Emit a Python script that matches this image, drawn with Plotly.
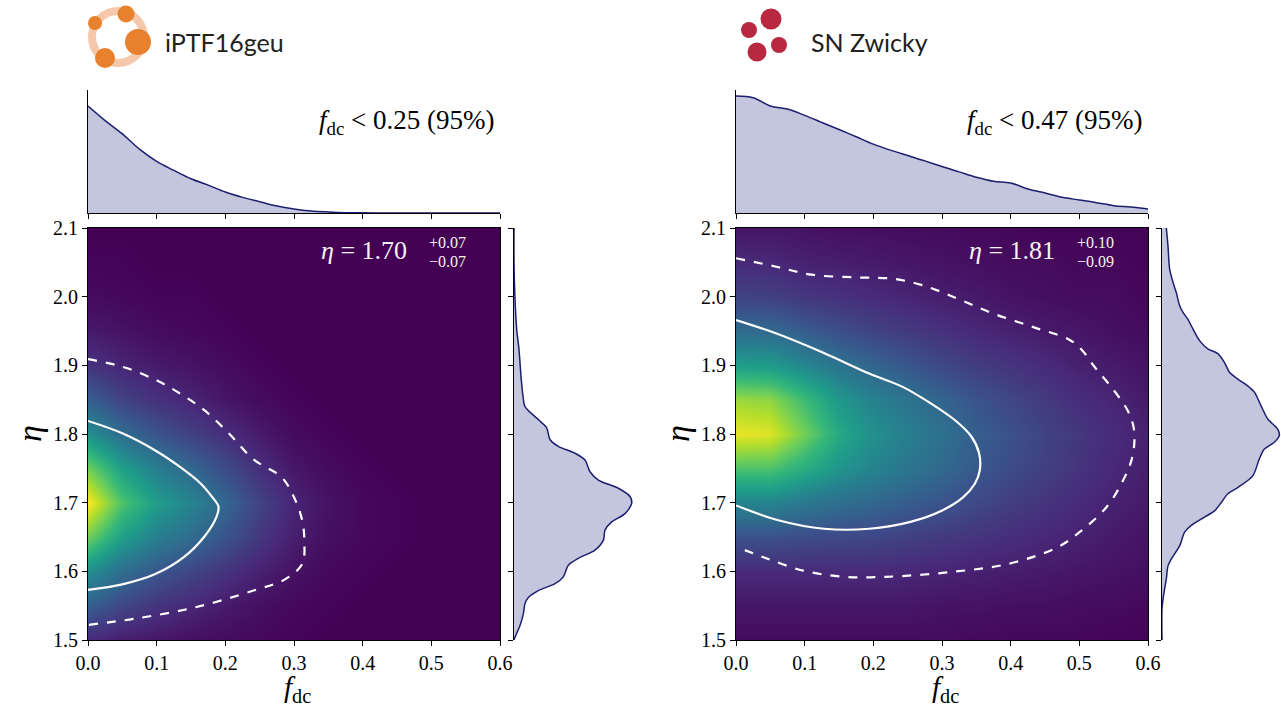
import plotly.graph_objects as go

W, H = 1281, 708

# ---------------- data ----------------
F_GRID = [0.0, 0.05, 0.1, 0.15, 0.2, 0.25, 0.3, 0.35, 0.4, 0.45, 0.5, 0.55, 0.6]
ETA_GRID = [1.5, 1.55, 1.6, 1.65, 1.7, 1.75, 1.8, 1.85, 1.9, 1.95, 2.0, 2.05, 2.1]

Z_IPTF = [
    [0.12, 0.08, 0.06, 0.04, 0.03, 0.02, 0.01, 0.00, 0.00, 0.00, 0.00, 0.00, 0.00],
    [0.30, 0.21, 0.15, 0.11, 0.07, 0.04, 0.02, 0.01, 0.00, 0.00, 0.00, 0.00, 0.00],
    [0.50, 0.36, 0.27, 0.21, 0.15, 0.09, 0.05, 0.02, 0.01, 0.00, 0.00, 0.00, 0.00],
    [0.78, 0.56, 0.43, 0.35, 0.26, 0.16, 0.08, 0.04, 0.02, 0.01, 0.00, 0.00, 0.00],
    [1.00, 0.72, 0.55, 0.45, 0.33, 0.20, 0.10, 0.05, 0.02, 0.01, 0.00, 0.00, 0.00],
    [0.78, 0.56, 0.42, 0.33, 0.23, 0.13, 0.06, 0.03, 0.01, 0.00, 0.00, 0.00, 0.00],
    [0.50, 0.35, 0.26, 0.19, 0.13, 0.07, 0.03, 0.01, 0.00, 0.00, 0.00, 0.00, 0.00],
    [0.30, 0.20, 0.14, 0.10, 0.06, 0.03, 0.01, 0.00, 0.00, 0.00, 0.00, 0.00, 0.00],
    [0.15, 0.10, 0.07, 0.05, 0.03, 0.01, 0.00, 0.00, 0.00, 0.00, 0.00, 0.00, 0.00],
    [0.07, 0.05, 0.03, 0.02, 0.01, 0.00, 0.00, 0.00, 0.00, 0.00, 0.00, 0.00, 0.00],
    [0.03, 0.02, 0.01, 0.01, 0.00, 0.00, 0.00, 0.00, 0.00, 0.00, 0.00, 0.00, 0.00],
    [0.01, 0.01, 0.00, 0.00, 0.00, 0.00, 0.00, 0.00, 0.00, 0.00, 0.00, 0.00, 0.00],
    [0.00, 0.00, 0.00, 0.00, 0.00, 0.00, 0.00, 0.00, 0.00, 0.00, 0.00, 0.00, 0.00],
]

Z_ZWICKY = [
    [0.03, 0.03, 0.03, 0.03, 0.03, 0.03, 0.03, 0.02, 0.02, 0.02, 0.02, 0.01, 0.01],
    [0.06, 0.06, 0.06, 0.06, 0.06, 0.06, 0.05, 0.05, 0.04, 0.04, 0.03, 0.03, 0.02],
    [0.12, 0.12, 0.12, 0.12, 0.12, 0.11, 0.10, 0.09, 0.08, 0.07, 0.06, 0.05, 0.04],
    [0.25, 0.25, 0.23, 0.22, 0.21, 0.19, 0.17, 0.15, 0.13, 0.11, 0.09, 0.07, 0.05],
    [0.45, 0.45, 0.40, 0.36, 0.33, 0.29, 0.26, 0.22, 0.18, 0.15, 0.12, 0.09, 0.07],
    [0.72, 0.72, 0.62, 0.52, 0.45, 0.39, 0.34, 0.28, 0.23, 0.19, 0.15, 0.11, 0.08],
    [0.97, 0.95, 0.78, 0.60, 0.50, 0.43, 0.37, 0.30, 0.25, 0.20, 0.16, 0.12, 0.09],
    [0.85, 0.83, 0.68, 0.53, 0.44, 0.38, 0.32, 0.26, 0.21, 0.17, 0.13, 0.10, 0.07],
    [0.55, 0.54, 0.46, 0.38, 0.32, 0.27, 0.22, 0.18, 0.15, 0.12, 0.09, 0.07, 0.05],
    [0.35, 0.34, 0.29, 0.24, 0.20, 0.17, 0.14, 0.11, 0.09, 0.07, 0.06, 0.04, 0.03],
    [0.20, 0.19, 0.16, 0.14, 0.12, 0.10, 0.08, 0.07, 0.05, 0.04, 0.03, 0.03, 0.02],
    [0.12, 0.11, 0.09, 0.08, 0.07, 0.06, 0.05, 0.04, 0.03, 0.03, 0.02, 0.02, 0.01],
    [0.06, 0.06, 0.05, 0.04, 0.04, 0.03, 0.03, 0.02, 0.02, 0.01, 0.01, 0.01, 0.01],
]

# contours (68% solid, 95% dashed)
IPTF_68_F = [0.0, 0.050, 0.098, 0.134, 0.164, 0.181, 0.190, 0.187, 0.169, 0.140, 0.098, 0.050, 0.0]
IPTF_68_ETA = [1.819, 1.801, 1.776, 1.752, 1.728, 1.708, 1.694, 1.679, 1.650, 1.621, 1.596, 1.581, 1.573]
IPTF_95_F = [0.0, 0.050, 0.098, 0.134, 0.169, 0.205, 0.241, 0.282, 0.300, 0.312, 0.315, 0.312,
             0.288, 0.241, 0.158, 0.068, 0.0]
IPTF_95_ETA = [1.909, 1.898, 1.879, 1.859, 1.835, 1.801, 1.763, 1.737, 1.708, 1.674, 1.645, 1.611,
               1.589, 1.572, 1.548, 1.531, 1.522]

ZW_68_F = [0.0, 0.057, 0.128, 0.194, 0.242, 0.283, 0.319, 0.343, 0.354, 0.355, 0.348, 0.331,
           0.301, 0.254, 0.194, 0.128, 0.063, 0.0]
ZW_68_ETA = [1.966, 1.947, 1.918, 1.888, 1.869, 1.845, 1.820, 1.796, 1.772, 1.747, 1.728, 1.708,
             1.689, 1.672, 1.662, 1.662, 1.674, 1.696]
ZW_95_F = [0.0, 0.057, 0.110, 0.176, 0.230, 0.277, 0.325, 0.373, 0.432, 0.486, 0.504, 0.522,
           0.546, 0.570, 0.579, 0.580, 0.576, 0.564, 0.540, 0.504, 0.468, 0.397, 0.313, 0.218,
           0.158, 0.098, 0.039, 0.0]
ZW_95_ETA = [2.056, 2.044, 2.032, 2.028, 2.026, 2.015, 1.996, 1.976, 1.956, 1.937, 1.922, 1.898,
             1.869, 1.835, 1.810, 1.786, 1.762, 1.733, 1.694, 1.660, 1.635, 1.611, 1.599, 1.592,
             1.592, 1.601, 1.621, 1.636]

# marginal of f_dc (top panels)
F_MARG = [0.0, 0.025, 0.05, 0.075, 0.1, 0.125, 0.15, 0.175, 0.2, 0.225, 0.25, 0.275, 0.3,
          0.325, 0.35, 0.375, 0.4, 0.425, 0.45, 0.475, 0.5, 0.525, 0.55, 0.575, 0.6]
IPTF_F_DENS = [322, 278, 238, 192, 155, 128, 103, 84, 63, 47, 34, 21, 12,
               6, 3, 1, 0.5, 0.2, 0, 0, 0, 0, 0, 0, 0]
ZW_F_DENS = [350, 345, 320, 311, 292, 271, 250, 228, 206, 188, 172, 156, 139,
             123, 107, 95, 90, 72, 60, 47, 39, 31, 22, 18, 12]

# marginal of eta (right panels)
IPTF_ETA_MARG = [1.500, 1.504, 1.521, 1.538, 1.553, 1.562, 1.572, 1.582, 1.592, 1.609, 1.619,
                 1.631, 1.645, 1.660, 1.672, 1.684, 1.699, 1.709, 1.721, 1.733, 1.745, 1.762,
                 1.772, 1.782, 1.792, 1.809, 1.821, 1.840, 1.855, 1.884, 1.923, 1.953, 1.997,
                 2.050, 2.100]
IPTF_ETA_DENS = [0, 3, 18, 28, 33, 43, 73, 123, 148, 163, 193,
                 243, 268, 273, 293, 333, 353, 348, 313, 253, 228, 213,
                 183, 133, 108, 98, 73, 33, 27, 21, 15, 8, 3,
                 0, 0]
ZW_ETA_MARG = [1.500, 1.545, 1.569, 1.589, 1.608, 1.618, 1.637, 1.657, 1.667, 1.679, 1.688,
               1.700, 1.713, 1.722, 1.739, 1.764, 1.778, 1.788, 1.798, 1.807, 1.822, 1.841,
               1.861, 1.870, 1.880, 1.890, 1.904, 1.917, 1.924, 1.936, 1.953, 1.967, 1.977,
               1.987, 2.006, 2.021, 2.040, 2.074, 2.100]
ZW_ETA_DENS = [0, 0, 6, 13, 18, 28, 53, 68, 88, 128, 158,
               178, 198, 228, 273, 293, 308, 338, 353, 348, 318, 298,
               278, 258, 228, 203, 188, 168, 138, 113, 93, 78, 63,
               53, 43, 33, 23, 18, 13]

X_TICKS = [0.0, 0.1, 0.2, 0.3, 0.4, 0.5, 0.6]
X_LABELS = ["0.0", "0.1", "0.2", "0.3", "0.4", "0.5", "0.6"]
Y_TICKS = [1.5, 1.6, 1.7, 1.8, 1.9, 2.0, 2.1]
Y_LABELS = ["1.5", "1.6", "1.7", "1.8", "1.9", "2.0", "2.1"]

TITLES = ["iPTF16geu", "SN Zwicky"]
ETA_MED = ["1.70", "1.81"]
ETA_UP = ["+0.07", "+0.10"]
ETA_LO = ["\u22120.07", "\u22120.09"]
F_LIMIT = ["0.25", "0.47"]

# ---------------- styling ----------------
SERIF = "Liberation Serif, serif"
FILL = "rgba(196,198,221,1)"
EDGE = "#1c1f6e"


def px(x):
    return x / W


def py(y):
    return 1 - y / H


fig = go.Figure()

panels = [
    dict(z=Z_IPTF, c68=(IPTF_68_F, IPTF_68_ETA), c95=(IPTF_95_F, IPTF_95_ETA),
         fd=IPTF_F_DENS, em=IPTF_ETA_MARG, ed=IPTF_ETA_DENS, x0=88, x1=500, rx0=514, rx1=640,
         ftop=370, eright=378),
    dict(z=Z_ZWICKY, c68=(ZW_68_F, ZW_68_ETA), c95=(ZW_95_F, ZW_95_ETA),
         fd=ZW_F_DENS, em=ZW_ETA_MARG, ed=ZW_ETA_DENS, x0=736, x1=1148, rx0=1162, rx1=1281,
         ftop=368, eright=358),
]

layout = dict(
    width=W, height=H, margin=dict(l=0, r=0, t=0, b=0, pad=0, autoexpand=False),
    paper_bgcolor="white", plot_bgcolor="white", showlegend=False, hovermode=False,
)

main_top, main_bot = 228, 640
top_top, top_bot = 90, 213

annotations = []
shapes = []

for i, p in enumerate(panels):
    k = 3 * i
    ax_main, ax_top, ax_right = k + 1, k + 2, k + 3

    def nm(n, a):
        return a if n == 1 else f"{a}{n}"

    fig.add_trace(go.Heatmap(
        x=F_GRID, y=ETA_GRID, z=p["z"], colorscale="Viridis", zmin=0, zmax=1,
        zsmooth="best", showscale=False, hoverinfo="skip",
        xaxis=nm(ax_main, "x"), yaxis=nm(ax_main, "y")))
    fig.add_trace(go.Scatter(
        x=p["c95"][0], y=p["c95"][1], mode="lines",
        line=dict(color="white", width=2.2, dash="dash", shape="spline"),
        xaxis=nm(ax_main, "x"), yaxis=nm(ax_main, "y"), hoverinfo="skip"))
    fig.add_trace(go.Scatter(
        x=p["c68"][0], y=p["c68"][1], mode="lines",
        line=dict(color="white", width=2.2, shape="spline"),
        xaxis=nm(ax_main, "x"), yaxis=nm(ax_main, "y"), hoverinfo="skip"))
    fig.add_trace(go.Scatter(
        x=F_MARG, y=p["fd"], mode="lines", fill="tozeroy", fillcolor=FILL,
        line=dict(color=EDGE, width=1.5, shape="spline"),
        xaxis=nm(ax_top, "x"), yaxis=nm(ax_top, "y"), hoverinfo="skip"))
    fig.add_trace(go.Scatter(
        x=p["ed"], y=p["em"], mode="lines", fill="tozerox", fillcolor=FILL,
        line=dict(color=EDGE, width=1.5, shape="spline", smoothing=0.8),
        xaxis=nm(ax_right, "x"), yaxis=nm(ax_right, "y"), hoverinfo="skip"))

    common = dict(showgrid=False, zeroline=False, linecolor="black", linewidth=1,
                  tickcolor="black", ticklen=5, tickwidth=1, automargin=False,
                  tickfont=dict(family=SERIF, size=20, color="black"))
    xd = [px(p["x0"]), px(p["x1"])]
    layout[nm(ax_main, "xaxis")] = dict(
        domain=xd, range=[0, 0.6], tickvals=X_TICKS, ticktext=X_LABELS,
        ticks="outside", showline=True, mirror=True, anchor=nm(ax_main, "y"), **common)
    layout[nm(ax_main, "yaxis")] = dict(
        domain=[py(main_bot), py(main_top)], range=[1.5, 2.1], tickvals=Y_TICKS,
        ticktext=Y_LABELS, ticks="outside", showline=True, mirror=True,
        anchor=nm(ax_main, "x"), **common)
    layout[nm(ax_top, "xaxis")] = dict(
        domain=xd, range=[0, 0.6], tickvals=X_TICKS, ticks="outside",
        showticklabels=False, showline=True, anchor=nm(ax_top, "y"), **common)
    layout[nm(ax_top, "yaxis")] = dict(
        domain=[py(top_bot), py(top_top)], range=[0, p["ftop"]], ticks="",
        showticklabels=False, showline=True, anchor=nm(ax_top, "x"), **common)
    layout[nm(ax_right, "xaxis")] = dict(
        domain=[px(p["rx0"]), px(p["rx1"])], range=[0, p["eright"]], ticks="",
        showticklabels=False, showline=False, anchor=nm(ax_right, "y"), **common)
    layout[nm(ax_right, "yaxis")] = dict(
        domain=[py(main_bot), py(main_top)], range=[1.5, 2.1], tickvals=Y_TICKS,
        ticks="outside", showticklabels=False, showline=True,
        anchor=nm(ax_right, "x"), **common)

    cx = (p["x0"] + p["x1"]) / 2
    annotations.append(dict(
        x=px(cx + 3), y=py(689), xref="paper", yref="paper", showarrow=False,
        text="<i>f</i><sub>dc</sub>", font=dict(family=SERIF, size=29, color="black"),
        xanchor="center", yanchor="middle"))
    annotations.append(dict(
        x=px(p["x0"] - 58), y=py(434), xref="paper", yref="paper", showarrow=False,
        text="<i>\u03b7</i>", textangle=-90, font=dict(family=SERIF, size=34, color="black"),
        xanchor="center", yanchor="middle"))
    annotations.append(dict(
        x=px(p["x1"] - 91), y=py(250), xref="paper", yref="paper", showarrow=False,
        text=f"<i>\u03b7</i> = {ETA_MED[i]}", xanchor="right", yanchor="middle",
        font=dict(family=SERIF, size=26, color="#f2f2f2")))
    annotations.append(dict(
        x=px(p["x1"] - 73), y=py(243), xref="paper", yref="paper", showarrow=False,
        text=ETA_UP[i], xanchor="left", yanchor="middle",
        font=dict(family=SERIF, size=16, color="#f2f2f2")))
    annotations.append(dict(
        x=px(p["x1"] - 73), y=py(261), xref="paper", yref="paper", showarrow=False,
        text=ETA_LO[i], xanchor="left", yanchor="middle",
        font=dict(family=SERIF, size=16, color="#f2f2f2")))
    annotations.append(dict(
        x=px(p["x1"] - 3), y=py(122), xref="paper", yref="paper", showarrow=False,
        text=f"<i>f</i><sub>dc</sub> < {F_LIMIT[i]} (95%)", xanchor="right", yanchor="middle",
        font=dict(family=SERIF, size=27, color="black")))
    annotations.append(dict(
        x=px([163, 809][i]), y=py(42), xref="paper", yref="paper", showarrow=False,
        text=TITLES[i], xanchor="left", yanchor="middle",
        font=dict(family="Lato", size=25, color="#222222")))


def circ(cx, cy, r, fill):
    return dict(type="circle", xref="paper", yref="paper",
                x0=px(cx - r), x1=px(cx + r), y0=py(cy + r), y1=py(cy - r),
                fillcolor=fill, line=dict(color=fill, width=0), layer="above")


shapes.append(dict(type="circle", xref="paper", yref="paper",
                   x0=px(92), x1=px(144), y0=py(63), y1=py(11),
                   fillcolor="rgba(0,0,0,0)", line=dict(color="#f5c8ab", width=8), layer="above"))
ORANGE = "#e8812d"
shapes.append(circ(95, 23, 7, ORANGE))
shapes.append(circ(126, 14, 8.5, ORANGE))
shapes.append(circ(138, 42, 13, ORANGE))
shapes.append(circ(105, 58, 10, ORANGE))
RED = "#b92841"
shapes.append(circ(749, 30, 8, RED))
shapes.append(circ(771, 19, 10.5, RED))
shapes.append(circ(757, 52, 9.5, RED))
shapes.append(circ(779, 45, 8, RED))

layout["annotations"] = annotations
layout["shapes"] = shapes
fig.update_layout(**layout)

fig.write_html(
    "out.html",
    config={"displayModeBar": False},
    post_script="document.body.style.margin='0px';document.body.style.overflow='hidden';",
)
